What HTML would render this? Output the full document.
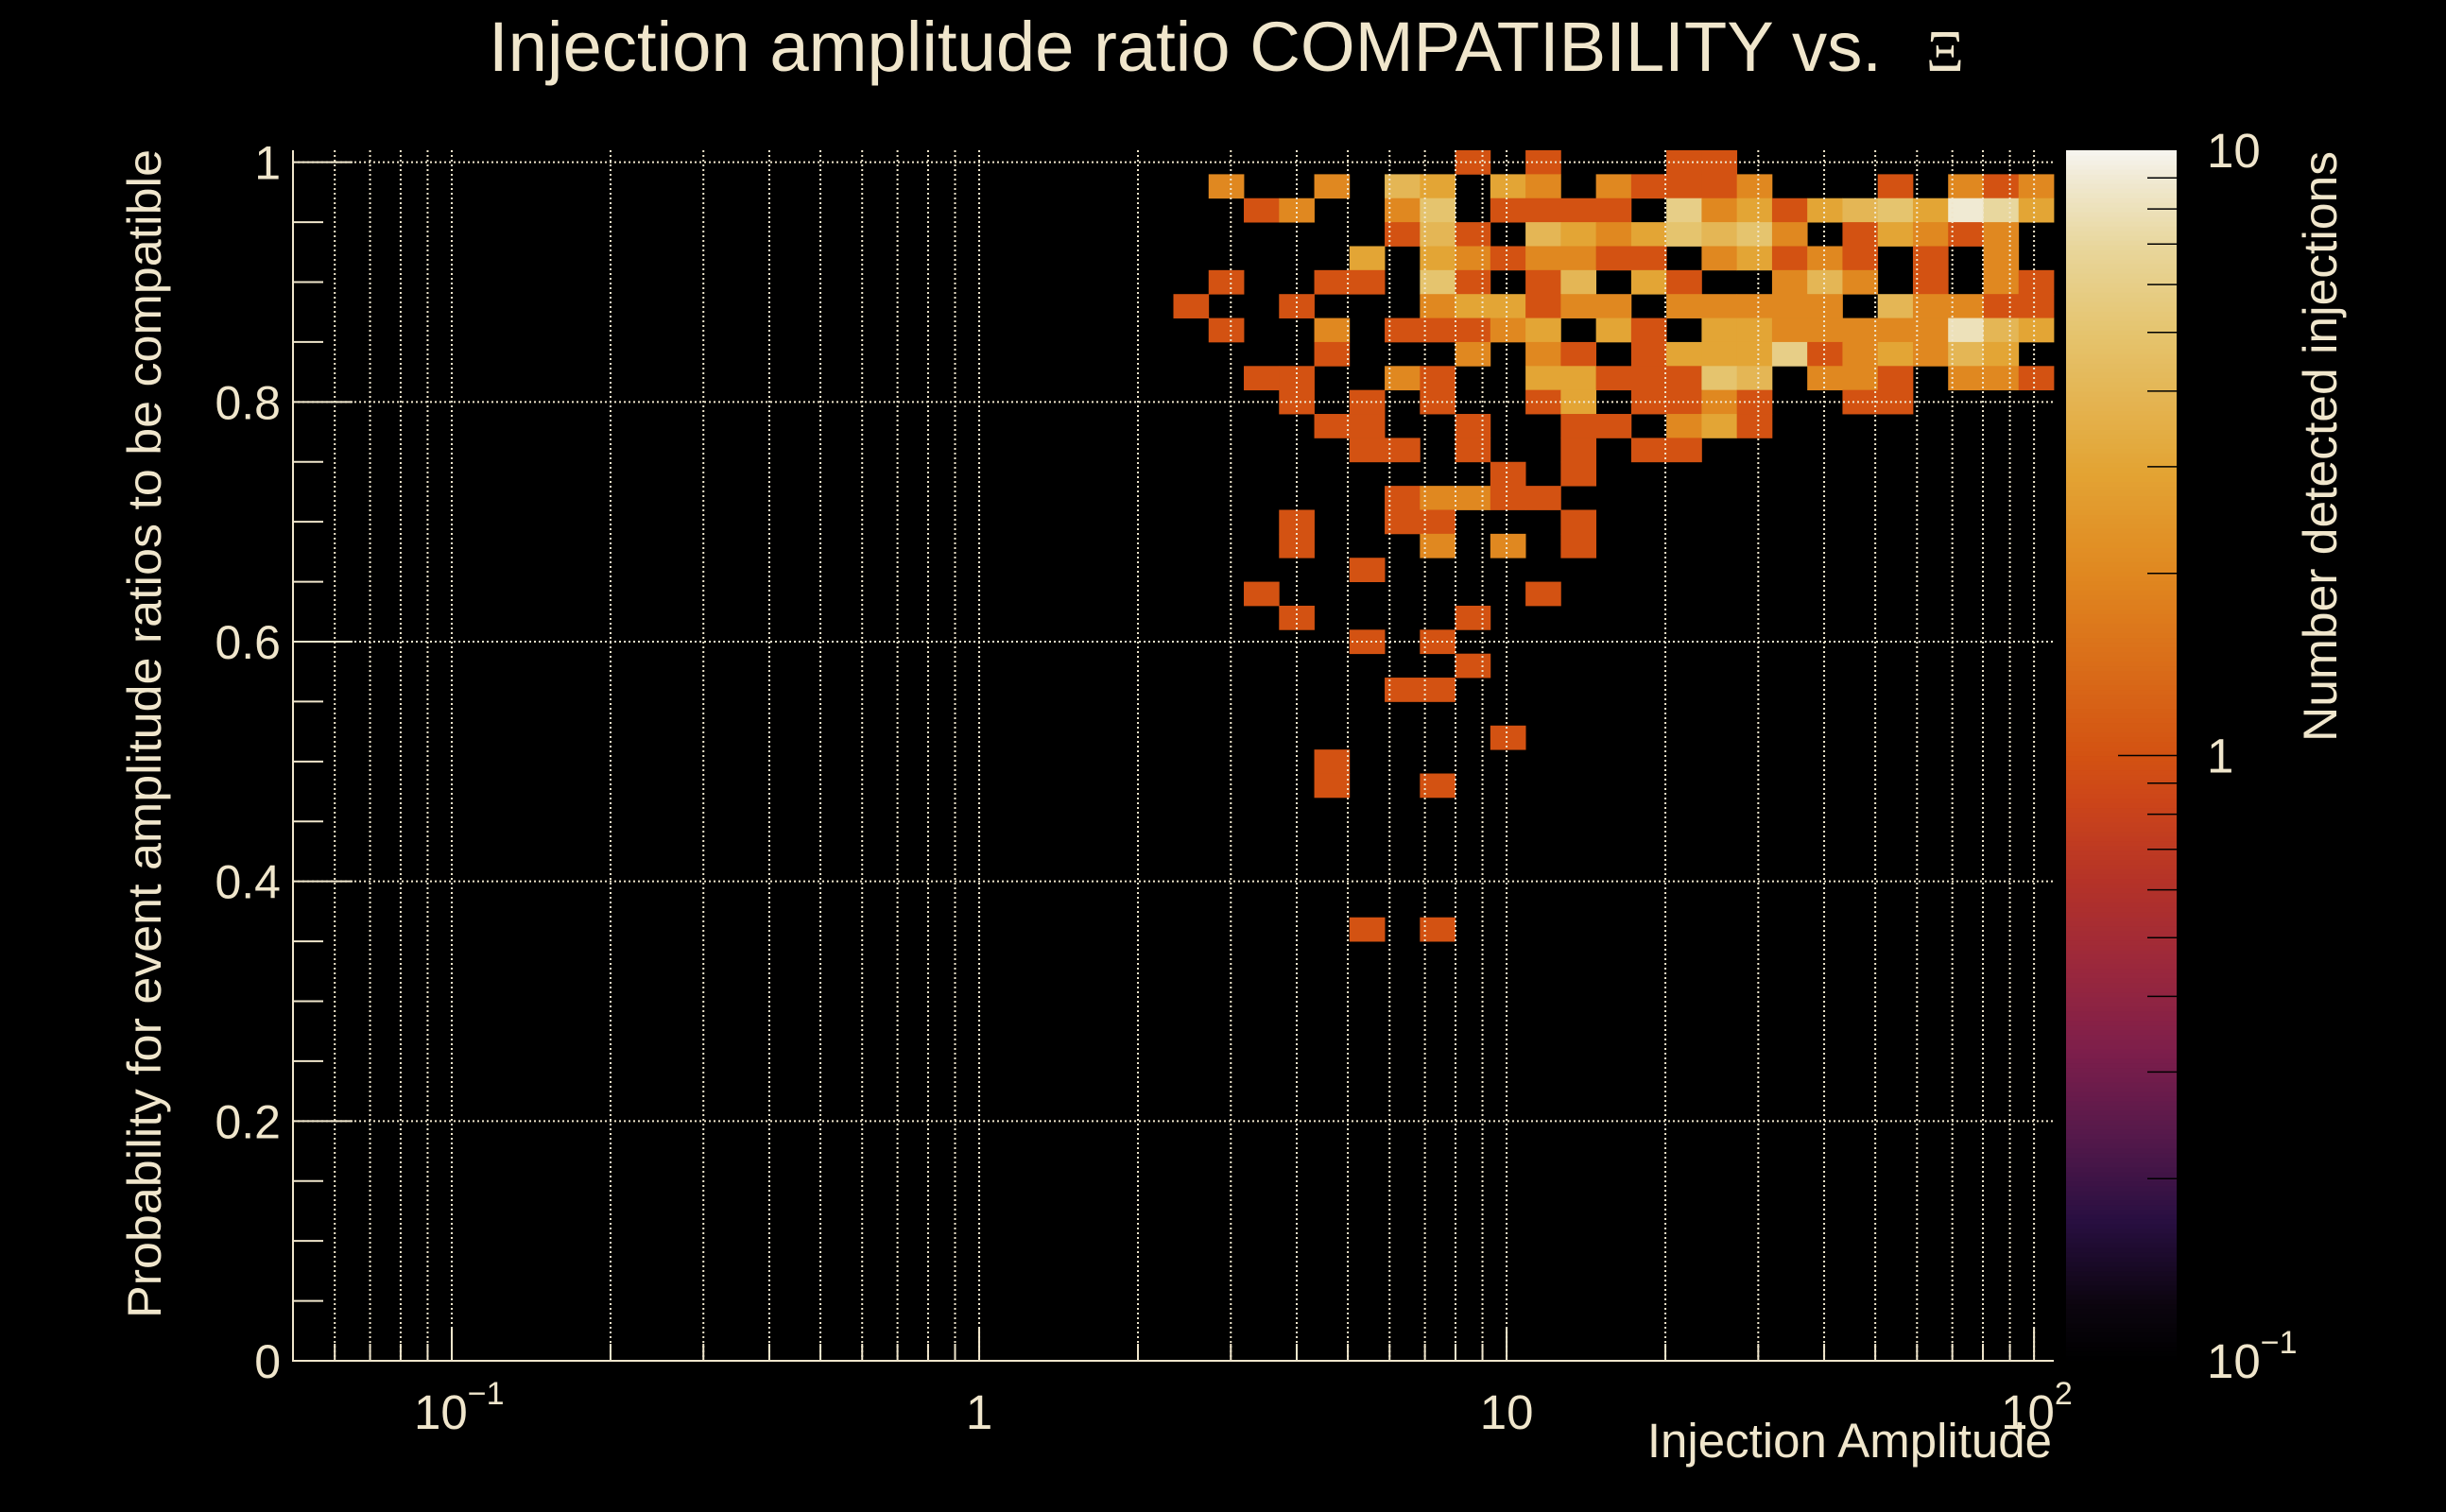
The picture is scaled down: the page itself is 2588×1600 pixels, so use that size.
<!DOCTYPE html>
<html><head><meta charset="utf-8"><style>
html,body{margin:0;padding:0;background:#000;}
svg{display:block;}
text{font-family:"Liberation Sans",sans-serif;fill:#F0E6CC;}
</style></head><body>
<svg id="chart" width="2588" height="1600" viewBox="0 0 2588 1600" xmlns="http://www.w3.org/2000/svg">
<rect x="0" y="0" width="2588" height="1600" fill="#000"/>
<text x="517" y="75" font-size="74" textLength="1474" lengthAdjust="spacingAndGlyphs">Injection amplitude ratio COMPATIBILITY vs.</text>
<text x="2038" y="75" font-size="62" font-family="Liberation Serif,serif" style="font-family:'Liberation Serif',serif">Ξ</text>
<g id="cells"></g>
<g id="grid"></g>
<g id="axes"></g>
<g id="cbar"></g>
<text transform="translate(170,1395) rotate(-90)" font-size="50" textLength="1237" lengthAdjust="spacingAndGlyphs">Probability for event amplitude ratios to be compatible</text>
<text x="2171" y="1542" font-size="51" text-anchor="end">Injection Amplitude</text>
<text transform="translate(2472,785) rotate(-90)" font-size="50" textLength="625" lengthAdjust="spacingAndGlyphs">Number detected injections</text>
</svg>
<script>
// ---- data ----
const xMin = 0.05, xMax = 109, nXBins = 50;
const firstCol = 25;
const yCenters = [1.00,0.98,0.96,0.94,0.92,0.90,0.88,0.86,0.84,0.82,0.80,0.78,0.76,0.74,0.72,0.70,0.68,0.66,0.64,0.62,0.60,0.58,0.56,0.54,0.52,0.50,0.48,0.46,0.44,0.42,0.40,0.38,0.36];
const counts = [
"........1.1...11.........",
".2..2.43.32.21112...1.212",
"..12..25.1111.62313453973",
"......141.43235452.13212.",
".....3.3212211.23121.1.2.",
".1..11.51.14.31..242.1.21",
"1..1...233122.22222.42211",
".1..2.11123.31.3322222843",
"....1...2.21.13336123243.",
"..11..21..3311154.221.221",
"...1.1.1..13.1121..11....",
"....11..1..11.231........",
".....11.1..1.11..........",
".........1.1.............",
"......12211..............",
"...1..11...1.............",
"...1...2.2.1.............",
".....1...................",
"..1.......1..............",
"...1....1................",
".....1.1.................",
"........1................",
"......11.................",
".........................",
".........1...............",
"....1....................",
"....1..1.................",
".........................",
".........................",
".........................",
".........................",
".........................",
".....1.1................."
];
const yTicks = [0,0.2,0.4,0.6,0.8,1];
const yTickLabels = ["0","0.2","0.4","0.6","0.8","1"];
const xMajor = [0.1,1,10,100];
const xMajorLabels = [["10","\u22121"],["1",""],["10",""],["10","2"]];
const zTicks = [0.1,1,10];
const zTickLabels = [["10","\u22121"],["1",""],["10",""]];

// ---- layout ----
const L=310,R=2173,T=159,B=1440;
const yMin=0,yMax=1.01,yBinW=0.02;
const zMin=0.1,zMax=10;
const CBL=2186,CBR=2303;
const ns="http://www.w3.org/2000/svg";
function X(v){return L+(Math.log10(v)-Math.log10(xMin))/(Math.log10(xMax)-Math.log10(xMin))*(R-L);}
function Y(v){return B-(v-yMin)/(yMax-yMin)*(B-T);}
function Z(v){return B-(Math.log10(v)-Math.log10(zMin))/(Math.log10(zMax)-Math.log10(zMin))*(B-T);}
function xEdge(i){return Math.pow(10,Math.log10(xMin)+i*(Math.log10(xMax)-Math.log10(xMin))/nXBins);}
const stops=[[0,[0,0,0]],[0.047,[12,5,15]],[0.116,[40,15,65]],[0.186,[85,25,75]],[0.256,[125,30,75]],[0.326,[155,40,60]],[0.395,[180,50,40]],[0.465,[205,70,25]],[0.5,[211,82,18]],[0.651,[224,136,32]],[0.739,[227,165,53]],[0.801,[228,182,85]],[0.849,[229,196,110]],[0.92,[232,214,155]],[0.976,[240,233,210]],[1,[246,245,241]]];
function color(v){let t=(Math.log10(v)-Math.log10(zMin))/(Math.log10(zMax)-Math.log10(zMin));t=Math.max(0,Math.min(1,t));
for(let i=1;i<stops.length;i++){if(t<=stops[i][0]){const a=stops[i-1],b=stops[i];const f=(t-a[0])/(b[0]-a[0]);const c=a[1].map((x,k)=>Math.round(x+(b[1][k]-x)*f));return `rgb(${c[0]},${c[1]},${c[2]})`;}}return 'rgb(246,245,241)';}
function mk(tag,attrs,parent){const e=document.createElementNS(ns,tag);for(const k in attrs)e.setAttribute(k,attrs[k]);parent.appendChild(e);return e;}

// ---- cells ----
const gc=document.getElementById('cells');
counts.forEach((row,ri)=>{const yc=yCenters[ri];
 for(let i=0;i<row.length;i++){const ch=row[i];if(ch==='.')continue;const v=+ch;const c=firstCol+i;
  const x0=X(xEdge(c)),x1=X(xEdge(c+1));const yt=Math.max(T,Y(yc+yBinW/2)),yb=Math.min(B,Y(yc-yBinW/2));
  const r=mk('rect',{x:x0.toFixed(2),y:yt.toFixed(2),width:(x1-x0+0.4).toFixed(2),height:(yb-yt+0.4).toFixed(2),fill:color(v)},gc);
  
  
 }});

// ---- grid ----
const gg=document.getElementById('grid');
const xGrid=[];for(let d=-2;d<=2;d++){for(let m=1;m<10;m++){const v=m*Math.pow(10,d);if(v>=xMin&&v<=xMax)xGrid.push(v);}}
xGrid.forEach(v=>{const x=X(v);const l=mk('line',{x1:x,y1:T,x2:x,y2:B,stroke:'#F0E6CC','stroke-width':2,'stroke-dasharray':'2 3'},gg);
 
 });
yTicks.forEach(v=>{const y=Y(v);const l=mk('line',{x1:L,y1:y,x2:R,y2:y,stroke:'#F0E6CC','stroke-width':2,'stroke-dasharray':'2 3'},gg);
 
 });

// ---- axes ----
const ga=document.getElementById('axes');
mk('line',{x1:L,y1:T,x2:L,y2:B+1,stroke:'#F0E6CC','stroke-width':2},ga);
mk('line',{x1:L,y1:B,x2:R,y2:B,stroke:'#F0E6CC','stroke-width':2},ga);
xGrid.forEach(v=>{const x=X(v);const maj=xMajor.some(m=>Math.abs(m-v)<1e-9);
 const l=mk('line',{x1:x,y1:B,x2:x,y2:B-(maj?35:18),stroke:'#F0E6CC','stroke-width':2},ga);
 
 });
for(let k=0;k<=20;k++){const v=k*0.05;const y=Y(v);const maj=(k%4===0);
 const l=mk('line',{x1:L,y1:y,x2:L+(maj?63:32),y2:y,stroke:'#F0E6CC','stroke-width':2},ga);
 
 }
yTicks.forEach((v,i)=>{const t=mk('text',{x:297,y:Y(v)+18,'font-size':50,'text-anchor':'end'},ga);t.textContent=yTickLabels[i];
 
 });
xMajor.forEach((v,i)=>{const lab=xMajorLabels[i];const t=mk('text',{x:X(v),y:1512,'font-size':51,'text-anchor':'middle'},ga);
 t.textContent=lab[0];
 if(lab[1]){t.setAttribute('text-anchor','start');t.setAttribute('x',X(v)-(i===0?40:35));const s=mk('tspan',{dy:-26,'font-size':34},t);s.textContent=lab[1];}
 
 });

// ---- color bar ----
const gb=document.getElementById('cbar');
const nSteps=256;
for(let i=0;i<nSteps;i++){const z0=Math.pow(10,Math.log10(zMin)+i*2/nSteps),z1=Math.pow(10,Math.log10(zMin)+(i+1)*2/nSteps);
 const y0=Z(z1),y1=Z(z0);const r=mk('rect',{x:CBL,y:y0,width:CBR-CBL,height:y1-y0+0.6,fill:color(Math.sqrt(z0*z1))},gb);
 
 }
[0.2,0.3,0.4,0.5,0.6,0.7,0.8,0.9,1,2,3,4,5,6,7,8,9].forEach(v=>{const y=Z(v);const l=mk('line',{x1:CBR,y1:y,x2:CBR-(v===1?62:31),y2:y,stroke:'#000','stroke-width':1.5},gb);
 
 });
zTicks.forEach((v,i)=>{const lab=zTickLabels[i];const t=mk('text',{x:2335,y:Z(v)+18,'font-size':51},gb);t.textContent=lab[0];
 if(lab[1]){const s=mk('tspan',{dy:-26,'font-size':34},t);s.textContent=lab[1];}
 
 });
</script>
</body></html>
